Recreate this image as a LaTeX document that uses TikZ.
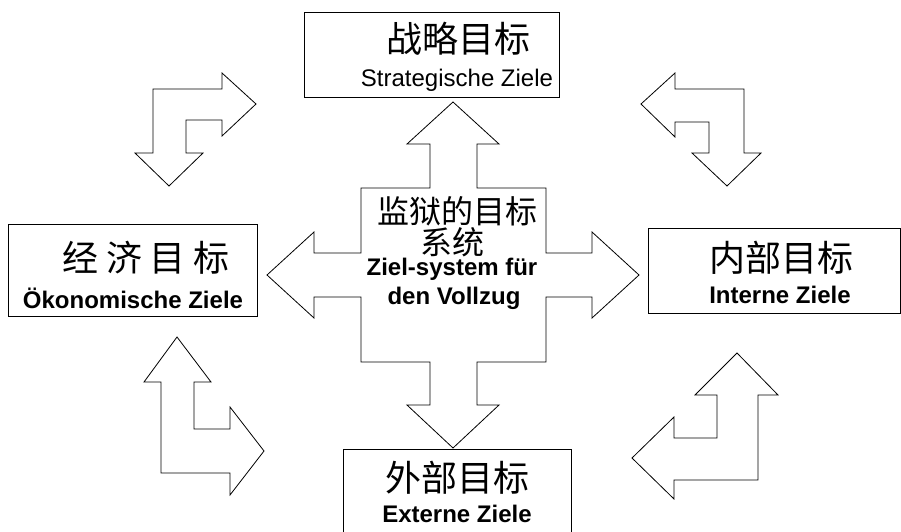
\documentclass[tikz,border=0pt]{standalone}
\usepackage{fontspec}
\setmainfont{Liberation Sans}
\newfontfamily\cjk{Noto Sans CJK SC}
\usetikzlibrary{positioning}

\begin{document}
\begin{tikzpicture}[
    x=1pt, y=-1pt,
    zielbox/.style={rectangle, draw=black, line width=0.8pt, fill=white, inner sep=0pt},
    blockarrow/.style={draw=black, line width=0.8pt, line join=miter, fill=white},
    cjklabel/.style={inner sep=0pt, font=\cjk\fontsize{36}{40}\selectfont},
    delabel/.style={inner sep=0pt, anchor=base, font=\bfseries\fontsize{24}{28}\selectfont}
]
\useasboundingbox (0,0) rectangle (901,532);
\clip (0,0) rectangle (901,532);

% the four goal boxes
\node[zielbox, minimum width=255pt, minimum height=85pt] (strat) at (431.5,54.5) {};
\node[zielbox, minimum width=249pt, minimum height=92pt] (oeko) at (132.5,270) {};
\node[zielbox, minimum width=252pt, minimum height=85pt] (intern) at (774,270.5) {};
\node[zielbox, minimum width=228pt, minimum height=111pt] (extern) at (457,504.5) {};

% texts in the boxes
\node[cjklabel] (stratzh) at (458,39) {战略目标};
\node[delabel, font=\fontsize{24}{28}\selectfont] (stratde) at (457,87) {Strategische Ziele};
\node[cjklabel] (oekozh) at (146,258) {经\hspace{7.5pt}济\hspace{7.5pt}目\hspace{7.5pt}标};
\node[delabel] (oekode) at (133,308) {Ökonomische Ziele};
\node[cjklabel] (internzh) at (781,258) {内部目标};
\node[delabel] (internde) at (780,303) {Interne Ziele};
\node[cjklabel] (externzh) at (457,478) {外部目标};
\node[delabel] (externde) at (457,522) {Externe Ziele};

% central cross with four arrow heads
\draw[blockarrow] (453,102) -- (499,144) -- (477,144) -- (477,188) -- (546,188)
    -- (546,253) -- (592,253) -- (592,232) -- (639,275) -- (592,318) -- (592,297)
    -- (546,297) -- (546,362) -- (477,362) -- (477,405) -- (499,405) -- (453,448)
    -- (407,405) -- (430,405) -- (430,362) -- (361,362) -- (361,297) -- (314,297)
    -- (314,318) -- (267,275) -- (314,232) -- (314,253) -- (361,253) -- (361,188)
    -- (430,188) -- (430,144) -- (407,144) -- cycle;

\node[cjklabel, font=\cjk\fontsize{32}{34}\selectfont] (zentrumzh) at (457,211) {监狱的目标};
\node[cjklabel, font=\cjk\fontsize{32}{34}\selectfont] (zentrumzhb) at (452,242.5) {系统};
\node[delabel] (zentrumde) at (452,275) {Ziel-system für};
\node[delabel] (zentrumdeb) at (454,304) {den Vollzug};

% bent arrows in the corners
\draw[blockarrow] (135,153) -- (153,153) -- (153,89) -- (222,89) -- (222,73)
    -- (256,104) -- (222,136) -- (222,120) -- (186,120) -- (186,153) -- (203,153)
    -- (169,186) -- cycle;
\draw[blockarrow] (641,104) -- (675,73) -- (675,89) -- (744,89) -- (744,153)
    -- (761,153) -- (727,186) -- (692,153) -- (709,153) -- (709,122) -- (675,122)
    -- (675,137) -- cycle;
\draw[blockarrow] (177,337) -- (211,382) -- (194,382) -- (194,429) -- (230,429)
    -- (230,407) -- (264,451) -- (230,495) -- (230,473) -- (161,473) -- (161,382)
    -- (144,382) -- cycle;
\draw[blockarrow] (737,353) -- (778,395) -- (758,395) -- (758,480) -- (674,480)
    -- (674,499) -- (632,458) -- (674,417) -- (674,438) -- (717,438) -- (717,395)
    -- (695,395) -- cycle;

\end{tikzpicture}
\end{document}
